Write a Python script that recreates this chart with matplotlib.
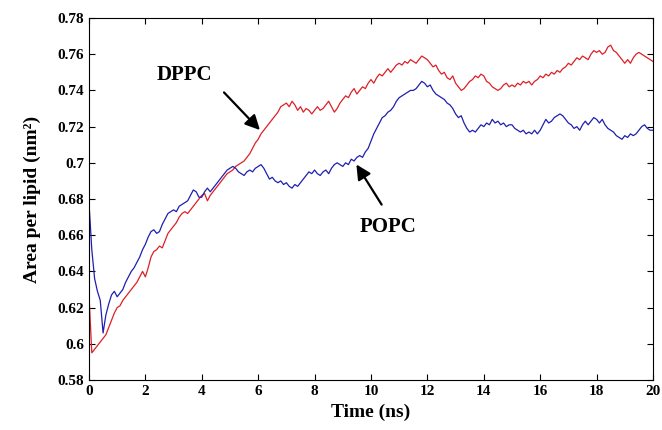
import numpy as np
import matplotlib
matplotlib.use('Agg')
import matplotlib.pyplot as plt

# Tiempo de simulación (ns), muestreado cada 0.1 ns
tiempo = np.linspace(0, 20, 201)

# Área por lípido DPPC (nm^2)
dppc = [
    0.627, 0.595, 0.597, 0.599, 0.601, 0.603, 0.605, 0.609, 0.613, 0.617,
    0.620, 0.621, 0.624, 0.626, 0.628, 0.630, 0.632, 0.634, 0.637, 0.640,
    0.637, 0.642, 0.648, 0.651, 0.652, 0.654, 0.653, 0.657, 0.661, 0.663,
    0.665, 0.667, 0.670, 0.672, 0.673, 0.672, 0.674, 0.676, 0.678, 0.680,
    0.682, 0.683, 0.679, 0.682, 0.684, 0.686, 0.688, 0.690, 0.692, 0.694,
    0.695, 0.696, 0.698, 0.699, 0.700, 0.701, 0.703, 0.705, 0.708, 0.711,
    0.713, 0.716, 0.718, 0.720, 0.722, 0.724, 0.726, 0.728, 0.731, 0.732,
    0.733, 0.731, 0.734, 0.732, 0.729, 0.731, 0.728, 0.730, 0.729, 0.727,
    0.729, 0.731, 0.729, 0.730, 0.732, 0.734, 0.731, 0.728, 0.730, 0.733,
    0.735, 0.737, 0.736, 0.739, 0.741, 0.738, 0.740, 0.742, 0.741, 0.744,
    0.746, 0.744, 0.747, 0.749, 0.748, 0.750, 0.752, 0.750, 0.752, 0.754,
    0.755, 0.754, 0.756, 0.755, 0.757, 0.756, 0.755, 0.757, 0.759, 0.758,
    0.757, 0.755, 0.753, 0.754, 0.751, 0.749, 0.750, 0.747, 0.746, 0.748,
    0.744, 0.742, 0.740, 0.741, 0.743, 0.745, 0.746, 0.748, 0.747, 0.749,
    0.748, 0.745, 0.744, 0.742, 0.741, 0.740, 0.741, 0.743, 0.744, 0.742,
    0.743, 0.742, 0.744, 0.743, 0.745, 0.744, 0.745, 0.743, 0.745, 0.746,
    0.748, 0.747, 0.749, 0.748, 0.750, 0.749, 0.751, 0.750, 0.752, 0.753,
    0.755, 0.754, 0.756, 0.758, 0.757, 0.759, 0.758, 0.757, 0.760, 0.762,
    0.761, 0.762, 0.760, 0.761, 0.764, 0.765, 0.762, 0.761, 0.759, 0.757,
    0.755, 0.757, 0.755, 0.758, 0.760, 0.761, 0.760, 0.759, 0.758, 0.757,
    0.756,
]

# Área por lípido POPC (nm^2)
popc = [
    0.678, 0.652, 0.636, 0.629, 0.624, 0.606, 0.616, 0.622, 0.627, 0.629,
    0.626, 0.628, 0.630, 0.634, 0.637, 0.640, 0.642, 0.645, 0.648, 0.652,
    0.655, 0.659, 0.662, 0.663, 0.661, 0.662, 0.666, 0.669, 0.672, 0.673,
    0.674, 0.673, 0.676, 0.677, 0.678, 0.679, 0.682, 0.685, 0.684, 0.681,
    0.681, 0.684, 0.686, 0.684, 0.686, 0.688, 0.690, 0.692, 0.694, 0.696,
    0.697, 0.698, 0.697, 0.695, 0.694, 0.693, 0.695, 0.696, 0.695, 0.697,
    0.698, 0.699, 0.697, 0.694, 0.691, 0.692, 0.690, 0.689, 0.690, 0.688,
    0.689, 0.687, 0.686, 0.688, 0.687, 0.689, 0.691, 0.693, 0.695, 0.694,
    0.696, 0.694, 0.693, 0.695, 0.696, 0.694, 0.697, 0.699, 0.700, 0.699,
    0.698, 0.700, 0.699, 0.702, 0.701, 0.703, 0.704, 0.703, 0.706, 0.708,
    0.712, 0.716, 0.719, 0.722, 0.725, 0.726, 0.728, 0.729, 0.731, 0.734,
    0.736, 0.737, 0.738, 0.739, 0.740, 0.740, 0.741, 0.743, 0.745, 0.744,
    0.742, 0.743, 0.740, 0.738, 0.737, 0.736, 0.735, 0.733, 0.732, 0.730,
    0.727, 0.725, 0.726, 0.722, 0.719, 0.717, 0.718, 0.717, 0.719, 0.721,
    0.720, 0.722, 0.721, 0.724, 0.722, 0.723, 0.721, 0.722, 0.720, 0.721,
    0.721, 0.719, 0.718, 0.717, 0.718, 0.716, 0.717, 0.716, 0.718, 0.716,
    0.718, 0.721, 0.724, 0.722, 0.723, 0.725, 0.726, 0.727, 0.726, 0.724,
    0.722, 0.721, 0.719, 0.720, 0.718, 0.721, 0.723, 0.721, 0.723, 0.725,
    0.724, 0.722, 0.724, 0.721, 0.719, 0.718, 0.717, 0.715, 0.714, 0.713,
    0.715, 0.714, 0.716, 0.715, 0.716, 0.718, 0.720, 0.721, 0.719, 0.718,
    0.718,
]

plt.rcParams['font.family'] = ['Liberation Serif', 'DejaVu Serif']
plt.rcParams['font.weight'] = 'bold'

fig = plt.figure(figsize=(6.62, 4.30), dpi=100)
ax = fig.add_axes([0.1344, 0.1163, 0.852, 0.8418])

ax.plot(tiempo, dppc, color='#dd1f26', linewidth=0.9)
ax.plot(tiempo, popc, color='#1f1fb0', linewidth=0.9)

ax.set_xlim(0, 20)
ax.set_ylim(0.58, 0.78)
ax.set_xticks(np.arange(0, 21, 2))
ax.set_yticks(np.arange(0.58, 0.781, 0.02))
ax.set_yticklabels(['0.58', '0.6', '0.62', '0.64', '0.66', '0.68', '0.7',
                    '0.72', '0.74', '0.76', '0.78'])
ax.tick_params(direction='in', top=True, right=True, length=4,
               labelsize=11, width=0.8)
for lab in ax.get_xticklabels() + ax.get_yticklabels():
    lab.set_fontweight('bold')

ax.set_xlabel('Time (ns)', fontsize=14, fontweight='bold')
ax.set_ylabel('Area per lipid (nm²)', fontsize=14, fontweight='bold',
              labelpad=12)

# Flechas y etiquetas
flecha = dict(arrowstyle='-|>', color='black', lw=1.6, mutation_scale=22)
ax.annotate('', xy=(6.13, 0.717), xytext=(4.72, 0.740), arrowprops=flecha)
ax.text(3.4, 0.7485, 'DPPC', fontsize=15, fontweight='bold',
        ha='center', va='center')
ax.annotate('', xy=(9.43, 0.7004), xytext=(10.43, 0.6756), arrowprops=flecha)
ax.text(10.6, 0.6645, 'POPC', fontsize=15, fontweight='bold',
        ha='center', va='center')

plt.savefig('out.png', dpi=100)
plt.close()
